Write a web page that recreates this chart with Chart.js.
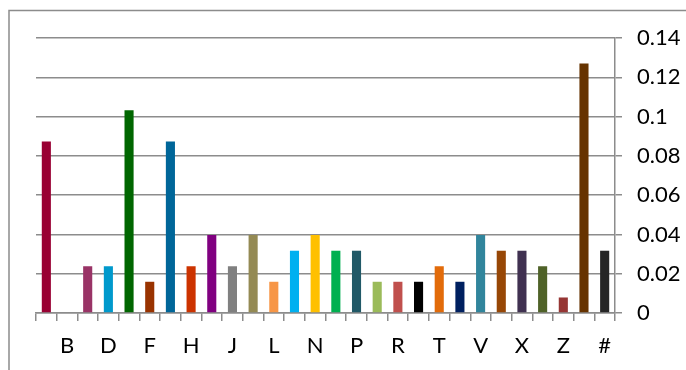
<!DOCTYPE html>
<html>
<head>
<meta charset="utf-8">
<script src="https://cdn.jsdelivr.net/npm/chart.js@4"></script>
<style>
  html, body { margin: 0; padding: 0; background: #fff; }
  #wrap { position: relative; width: 686px; height: 370px; }
</style>
</head>
<body>
<div id="wrap"><canvas id="c" width="686" height="370"></canvas></div>
<script>
const categories = ["A","B","C","D","E","F","G","H","I","J","K","L","M","N","O","P","Q","R","S","T","U","V","W","X","Y","Z","@","#"];
const values = [0.0873,0,0.0238,0.0238,0.1032,0.0159,0.0873,0.0238,0.0397,0.0238,0.0397,0.0159,0.0317,0.0397,0.0317,0.0317,0.0159,0.0159,0.0159,0.0238,0.0159,0.0397,0.0317,0.0317,0.0238,0.0079,0.1270,0.0317];
const barColors = ["#990033","#4F81BD","#993366","#0099CC","#006600","#993300","#006699","#CC3300","#800080","#808080","#948A54","#F79646","#00B0F0","#FFC000","#00B050","#215967","#9BBB59","#C0504D","#000000","#E26B0A","#002060","#31859C","#974706","#403151","#4F6228","#963634","#663300","#262626"];
const yTicks = [0,0.02,0.04,0.06,0.08,0.1,0.12,0.14];

const FONT = "Lato, 'Open Sans', sans-serif";

const framePlugin = {
  id: 'frame',
  beforeDraw(chart) {
    const ctx = chart.ctx;
    ctx.save();
    ctx.strokeStyle = '#8c8c8c';
    ctx.lineWidth = 1.5;
    ctx.beginPath();
    ctx.moveTo(9, 370);
    ctx.lineTo(9, 10.5);
    ctx.lineTo(686, 10.5);
    ctx.stroke();
    ctx.restore();
  }
};

new Chart(document.getElementById('c'), {
  type: 'bar',
  data: {
    labels: categories,
    datasets: [{
      data: values,
      backgroundColor: barColors,
      borderWidth: 0,
      categoryPercentage: 1,
      barPercentage: 0.44
    }]
  },
  options: {
    responsive: false,
    animation: false,
    layout: { padding: { left: 36, top: 38, right: 0, bottom: 0 } },
    plugins: { legend: { display: false }, tooltip: { enabled: false } },
    scales: {
      x: {
        offset: true,
        grid: {
          offset: true,
          drawOnChartArea: false,
          drawTicks: true,
          tickLength: 8,
          color: '#8c8c8c',
          lineWidth: 1.5
        },
        border: { display: true, color: '#8c8c8c', width: 1.5 },
        ticks: {
          autoSkip: false,
          maxRotation: 0,
          minRotation: 0,
          padding: 12,
          color: '#000',
          font: { family: FONT, size: 22 },
          callback: function(v, i) { return (i % 2 === 1) ? categories[i] : ''; }
        },
        afterFit(scale) { scale.height = 57; }
      },
      y: {
        position: 'right',
        min: 0,
        max: 0.14,
        afterBuildTicks(scale) { scale.ticks = yTicks.map(v => ({ value: v })); },
        grid: {
          color: '#8c8c8c',
          lineWidth: 1.5,
          tickLength: 7,
          drawTicks: true
        },
        border: { display: true, color: '#8c8c8c', width: 1.5 },
        ticks: {
          padding: 15,
          color: '#000',
          font: { family: FONT, size: 22 },
          callback: function(v) { return String(+v.toFixed(2)); }
        },
        afterFit(scale) { scale.width = 71; }
      }
    }
  },
  plugins: [framePlugin]
});
</script>
</body>
</html>
